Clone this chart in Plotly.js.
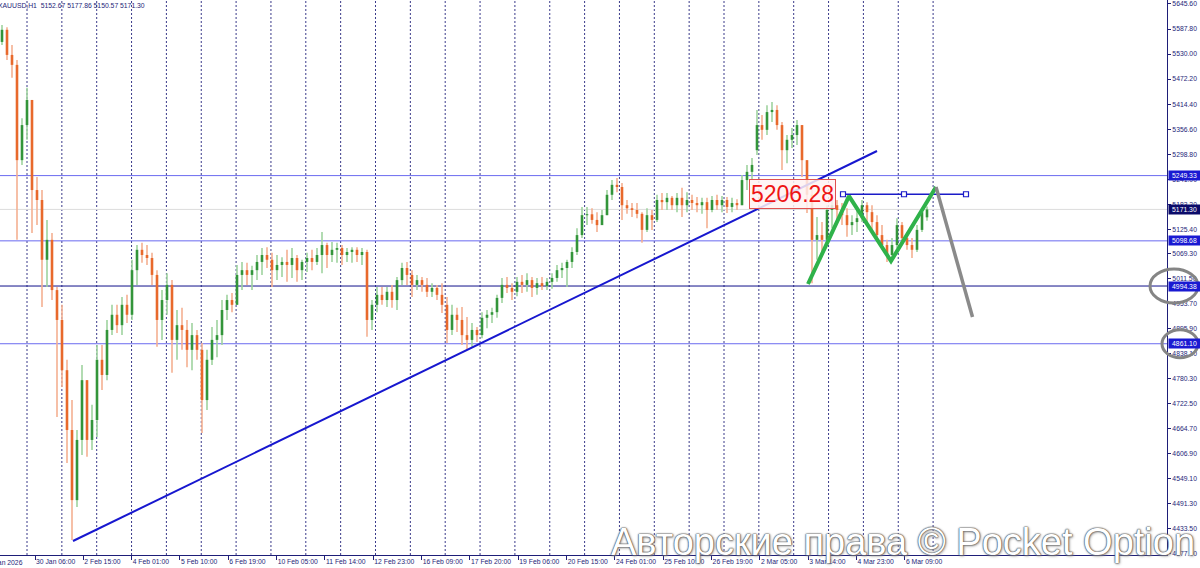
<!DOCTYPE html>
<html>
<head>
<meta charset="utf-8">
<script src="https://cdn.plot.ly/plotly-3.0.1.min.js"></script>
<style>
html,body{margin:0;padding:0;background:#ffffff;}
#chart{width:1200px;height:568px;}
</style>
</head>
<body>
<div id="chart"></div>
<script>
// ---- Price data (XAUUSD, aggregated bars) ----
const openP = [
5558,5586,5528,5505,5285,5366,5424,5216,5193,5055,
5101,4985,4916,4800,4662,4500,4639,4777,4639,4685,
4824,4789,4893,4928,4904,4951,4928,5031,5078,5066,
5059,5020,4916,4962,4997,4870,4904,4893,4847,4881,
4847,4731,4824,4870,4881,4939,4962,4951,5020,5031,
5020,5031,5050,5066,5055,5031,5043,5050,5043,5059,
5031,5050,5059,5050,5066,5089,5066,5078,5082,5066,
5073,5078,5066,5073,4916,4951,4974,4962,4981,4962,
5008,5036,5020,4997,5008,4997,4981,4990,4974,4951,
4893,4928,4916,4881,4870,4893,4881,4921,4928,4934,
4967,4997,4990,4981,5004,4997,5008,4990,5001,4994,
5004,5013,5031,5036,5050,5073,5112,5158,5160,5147,
5135,5158,5205,5228,5223,5181,5174,5170,5161,5124,
5158,5147,5193,5188,5198,5181,5198,5181,5193,5186,
5181,5188,5170,5193,5181,5193,5177,5186,5181,5239,
5258,5308,5366,5355,5396,5401,5366,5308,5332,5343,
5366,5285,5205,5101,5112,5101,5170,5181,5170,5158,
5135,5142,5151,5181,5165,5142,5112,5089,5066,5089,
5135,5105,5089,5078,5124,5153
];
const highP = [
5597,5592,5551,5516,5382,5452,5424,5246,5216,5147,
5117,4992,4951,4824,4731,4662,4812,4777,4720,4858,
4858,4916,4951,4951,4969,4974,5055,5089,5094,5089,
5071,5031,4985,5024,5008,4939,4944,4916,4909,4893,
4863,4847,4900,4916,4962,4974,4978,5043,5050,5048,
5041,5066,5082,5084,5071,5066,5061,5078,5082,5066,
5055,5071,5078,5082,5119,5094,5096,5094,5089,5082,
5084,5084,5082,5078,4962,4992,4992,4992,4997,5015,
5048,5050,5031,5020,5015,5013,5001,4997,5001,4969,
4951,4944,4946,4923,4909,4900,4934,4939,4944,4974,
5013,5015,5001,5015,5020,5024,5015,5013,5015,5013,
5024,5043,5048,5055,5084,5128,5177,5177,5174,5165,
5170,5216,5239,5244,5232,5193,5186,5186,5165,5174,
5170,5205,5209,5209,5202,5209,5221,5211,5205,5200,
5198,5198,5202,5205,5202,5200,5198,5195,5251,5274,
5290,5401,5389,5412,5419,5412,5373,5343,5359,5378,
5366,5285,5216,5154,5142,5181,5198,5193,5186,5174,
5158,5170,5193,5188,5181,5158,5135,5101,5105,5151,
5142,5119,5105,5135,5174,5177.86
];
const lowP = [
5551,5516,5475,5101,5274,5332,5117,5135,4946,4992,
4962,4692,4761,4586,4408,4484,4604,4600,4616,4646,
4754,4777,4881,4886,4881,4909,4916,4997,5048,5043,
4997,4854,4870,4928,4794,4824,4847,4807,4800,4824,
4655,4708,4812,4830,4858,4916,4934,4951,4985,4997,
4985,5008,5020,5036,4992,5008,5015,5004,5013,5004,
5008,5027,5031,5043,5024,5036,5050,5048,5043,5050,
5048,5050,5043,4877,4893,4934,4951,4946,4944,4939,
4997,4997,4969,4985,4981,4969,4969,4962,4932,4863,
4881,4888,4858,4847,4854,4865,4874,4897,4909,4921,
4955,4978,4962,4971,4978,4981,4969,4974,4985,4985,
4988,5004,5013,4992,5036,5066,5105,5135,5138,5119,
5135,5158,5193,5211,5147,5161,5154,5151,5094,5119,
5124,5142,5170,5170,5170,5165,5154,5165,5170,5165,
5161,5128,5165,5170,5165,5163,5165,5170,5181,5216,
5239,5297,5332,5343,5373,5355,5262,5278,5313,5320,
5246,5163,5001,5055,5073,5089,5128,5142,5135,5108,
5112,5119,5142,5142,5124,5101,5078,5050,5050,5082,
5089,5078,5059,5073,5119,5145
];
const closeP = [
5586,5528,5505,5285,5366,5424,5216,5193,5055,5101,
4985,4916,4800,4662,4500,4639,4777,4639,4685,4824,
4789,4893,4928,4904,4951,4928,5031,5078,5066,5059,
5020,4916,4962,4997,4870,4904,4893,4847,4881,4847,
4731,4824,4870,4881,4939,4962,4951,5020,5031,5020,
5031,5050,5066,5055,5031,5043,5050,5043,5059,5031,
5050,5059,5050,5066,5089,5066,5078,5082,5066,5073,
5078,5066,5073,4916,4951,4974,4962,4981,4962,5008,
5036,5020,4997,5008,4997,4981,4990,4974,4951,4893,
4928,4916,4881,4870,4893,4881,4921,4928,4934,4967,
4997,4990,4981,5004,4997,5008,4990,5001,4994,5004,
5013,5031,5036,5050,5073,5112,5158,5160,5147,5135,
5158,5205,5228,5223,5181,5174,5170,5161,5124,5158,
5147,5193,5188,5198,5181,5198,5181,5193,5186,5181,
5188,5170,5193,5181,5193,5177,5186,5181,5239,5258,
5274,5366,5355,5396,5401,5366,5308,5332,5343,5366,
5285,5205,5101,5112,5101,5170,5181,5170,5158,5135,
5142,5151,5181,5165,5142,5112,5089,5066,5089,5135,
5105,5089,5078,5124,5165,5171.30
];

// ---- Axis labels ----
const timeLabels = ['30 Jan 06:00','2 Feb 15:00','4 Feb 01:00','5 Feb 10:00','6 Feb 19:00',
  '10 Feb 05:00','11 Feb 14:00','12 Feb 23:00','16 Feb 09:00','17 Feb 20:00','19 Feb 06:00',
  '20 Feb 15:00','24 Feb 01:00','25 Feb 10:00','26 Feb 19:00','2 Mar 05:00','3 Mar 14:00',
  '4 Mar 23:00','6 Mar 09:00'];
const firstDateLabel = '29 Jan 2026';
const priceTicks = [5645.60,5587.80,5530.00,5472.20,5414.40,5356.60,5298.80,5241.00,5183.20,
  5125.40,5069.30,5011.50,4953.70,4895.90,4838.10,4780.30,4722.50,4664.70,4606.90,4549.10,
  4491.30,4433.50,4377.40];

// ---- Horizontal levels ----
const levelValues = [5249.33, 5098.68, 4994.38, 4861.10];
const bidPrice = 5171.30;
const markedLevel = 5206.28;
const headerText = 'XAUUSD,H1  5152.67 5177.86 5150.57 5171.30';

// ---- Analyst drawings (bar index, price) ----
const trendX = [14.2, 175.0];
const trendY = [4405.6, 5306.1];
const zigzagX = [161.2, 169.4, 177.8, 186.8];
const zigzagY = [4999, 5202, 5052, 5223];
const projX = [186.8, 194.1];
const projY = [5223, 4923];
const segX = [168.2, 180.4, 192.8];

const navy = '#1e1e78';
const yMin = 4373.3, yMax = 5654.8;
const xMin = -0.4, xMax = 233;
const tickFont = {family:'Liberation Sans, Arial, sans-serif', size:6.8, color:navy};

const idx = openP.map((_, i) => i);

function wicks(up){
  const xs=[], ys=[];
  idx.forEach(i => {
    if ((closeP[i] >= openP[i]) === up){ xs.push(i,i,null); ys.push(lowP[i],highP[i],null); }
  });
  return {xs, ys};
}
function bodies(up){
  const xs=[], ys=[];
  idx.forEach(i => {
    if ((closeP[i] >= openP[i]) === up){
      let a=openP[i], b=closeP[i];
      if (Math.abs(a-b) < 2.4){ const m=(a+b)/2; a=m-1.2; b=m+1.2; }
      xs.push(i,i,null); ys.push(a,b,null);
    }
  });
  return {xs, ys};
}
const wu = wicks(true), wd = wicks(false), bu = bodies(true), bd = bodies(false);

const traces = [
  {x:wu.xs, y:wu.ys, type:'scatter', mode:'lines', line:{color:'#9fd39f', width:1.6}, hoverinfo:'skip'},
  {x:wd.xs, y:wd.ys, type:'scatter', mode:'lines', line:{color:'#f4b091', width:1.6}, hoverinfo:'skip'},
  {x:bu.xs, y:bu.ys, type:'scatter', mode:'lines', line:{color:'#33953a', width:2.6}, hoverinfo:'skip'},
  {x:bd.xs, y:bd.ys, type:'scatter', mode:'lines', line:{color:'#e8692c', width:2.6}, hoverinfo:'skip'},
  {x:trendX, y:trendY, type:'scatter', mode:'lines', line:{color:'#1717cf', width:2}, hoverinfo:'skip'},
  {x:segX, y:segX.map(() => markedLevel), type:'scatter', mode:'lines+markers',
    line:{color:'#1b1bc8', width:1.5},
    marker:{symbol:'square', size:5, color:'#ffffff', line:{color:'#1b1bc8', width:1.2}}, hoverinfo:'skip'},
  {x:zigzagX, y:zigzagY, type:'scatter', mode:'lines', line:{color:'#2fb24a', width:4}, hoverinfo:'skip'},
  {x:projX, y:projY, type:'scatter', mode:'lines', line:{color:'#8a8a8a', width:3.5}, hoverinfo:'skip'}
];

// grid lines (vertical, dotted)
const gridVals = Array.from({length:27}, (_, j) => 5 + 6.97*j);
const tickVals = timeLabels.map((_, i) => 6.6 + 9.666*i);

const shapes = [];
gridVals.forEach(g => shapes.push({type:'line', xref:'x', yref:'paper', x0:g, x1:g, y0:0, y1:1,
  line:{color:'#3a3a8a', width:1, dash:'2px,2px'}, layer:'below'}));
shapes.push({type:'line', xref:'paper', yref:'y', x0:0, x1:1, y0:bidPrice, y1:bidPrice,
  line:{color:'#dcdcdc', width:1}, layer:'below'});
const levelColors = ['#6a6af0','#6a6af0','#10108a','#6a6af0'];
levelValues.forEach((v, i) => shapes.push({type:'line', xref:'paper', yref:'y', x0:0, x1:1, y0:v, y1:v,
  line:{color:levelColors[i], width:1}, layer:'below'}));
const toPaper = v => (v - yMin)/(yMax - yMin);
shapes.push({type:'circle', xref:'paper', yref:'paper', xsizemode:'pixel', ysizemode:'pixel',
  xanchor:1, yanchor:toPaper(levelValues[2]), x0:-17, x1:31, y0:-17, y1:17,
  line:{color:'#858585', width:3}});
shapes.push({type:'circle', xref:'paper', yref:'paper', xsizemode:'pixel', ysizemode:'pixel',
  xanchor:1, yanchor:toPaper(levelValues[3]), x0:-5, x1:31, y0:-14, y1:14,
  line:{color:'#858585', width:3}});

const boxFont = {family:'Liberation Sans, Arial, sans-serif', size:6.8, color:'#ffffff'};
const annotations = [];
levelValues.forEach(v => annotations.push({xref:'paper', yref:'y', x:1, y:v, xanchor:'left', yanchor:'middle',
  xshift:1, text:v.toFixed(2), showarrow:false, bgcolor:'#1a1ad2', font:boxFont, borderpad:1, width:29}));
annotations.push({xref:'paper', yref:'y', x:1, y:bidPrice, xanchor:'left', yanchor:'middle',
  xshift:1, text:bidPrice.toFixed(2), showarrow:false, bgcolor:'#0b0b6a', font:boxFont, borderpad:1, width:29});
annotations.push({xref:'x', yref:'y', x:segX[0]-1.4, y:markedLevel, xanchor:'right', yanchor:'middle',
  text:markedLevel.toFixed(2), showarrow:false, font:{family:'Liberation Sans, Arial, sans-serif', size:23, color:'#ee1515'},
  bgcolor:'rgba(255,242,242,0.85)', bordercolor:'#e05050', borderwidth:1, borderpad:1});
annotations.push({xref:'paper', yref:'paper', x:0, y:1, xanchor:'left', yanchor:'top', xshift:-4, yshift:0,
  text:headerText, showarrow:false, font:tickFont});
annotations.push({xref:'paper', yref:'paper', x:25/1167, y:0, xanchor:'right', yanchor:'top', yshift:-2,
  text:firstDateLabel, showarrow:false, font:tickFont});
annotations.push({xref:'paper', yref:'paper', x:0.774, y:0.024, xanchor:'center', yanchor:'middle',
  text:'Авторские права © Pocket Option', showarrow:false,
  font:{family:'Liberation Sans, Arial, sans-serif', size:38, color:'#ffffff',
    shadow:'0px 0px 1.5px #555, 0px 0px 1.5px #555, 0px 0px 1px #555, 1px 1px 3px #999'}});

const layout = {
  width:1200, height:568,
  margin:{l:0, r:33, t:0, b:13, pad:0},
  paper_bgcolor:'#ffffff', plot_bgcolor:'#ffffff',
  showlegend:false,
  xaxis:{range:[xMin, xMax], tickmode:'array', tickvals:tickVals, ticktext:timeLabels, tickangle:0,
    ticks:'outside', ticklen:4, tickcolor:navy, tickwidth:1, showline:true, linecolor:navy, linewidth:1,
    showgrid:false, zeroline:false, ticklabelposition:'outside right', tickfont:tickFont, fixedrange:true},
  yaxis:{side:'right', range:[yMin, yMax], tickmode:'array', tickvals:priceTicks,
    ticktext:priceTicks.map(v => v.toFixed(2)), ticks:'outside', ticklen:3, tickcolor:navy,
    showline:true, linecolor:navy, linewidth:1, showgrid:false, zeroline:false, tickfont:tickFont, fixedrange:true},
  shapes:shapes,
  annotations:annotations
};

Plotly.newPlot('chart', traces, layout, {displayModeBar:false, staticPlot:true});
</script>
</body>
</html>
